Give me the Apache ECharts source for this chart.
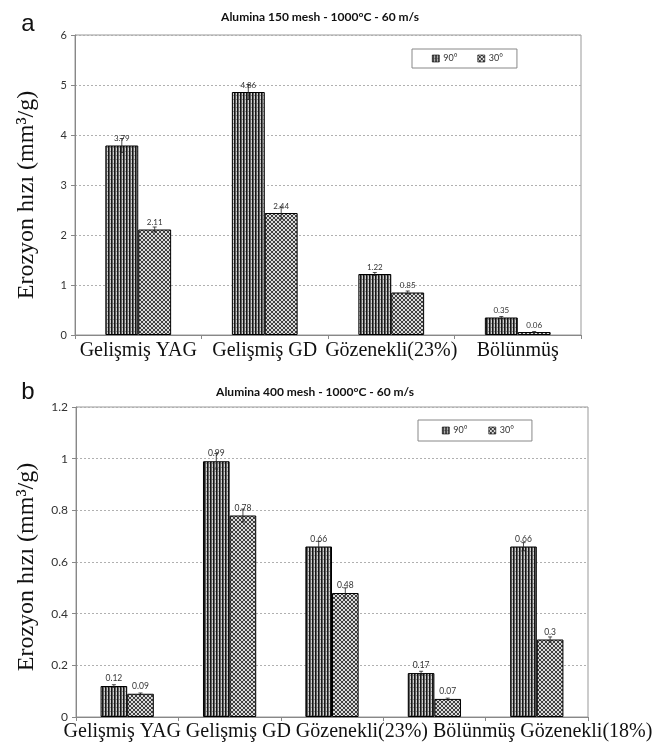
<!DOCTYPE html>
<html>
<head>
<meta charset="utf-8">
<script src="https://cdn.jsdelivr.net/npm/echarts@6/dist/echarts.min.js"></script>
<style>
html,body{margin:0;padding:0;background:#fff;}
#c{width:660px;height:746px;}
</style>
</head>
<body>
<div id="c"></div>
<script>
// ---------- DATA ----------
const seriesNames = ['90°', '30°'];
const categoriesA = ['Gelişmiş YAG', 'Gelişmiş GD', 'Gözenekli(23%)', 'Bölünmüş'];
const valuesA90 = [3.79, 4.86, 1.22, 0.35];
const valuesA30 = [2.11, 2.44, 0.85, 0.06];
const errorsA90 = [0.14, 0.15, 0.03, 0.02];
const errorsA30 = [0.05, 0.12, 0.03, 0.01];
const ticksA = [0, 1, 2, 3, 4, 5, 6];

const categoriesB = ['Gelişmiş YAG', 'Gelişmiş GD', 'Gözenekli(23%)', 'Bölünmüş', 'Gözenekli(18%)'];
const valuesB90 = [0.12, 0.99, 0.66, 0.17, 0.66];
const valuesB30 = [0.09, 0.78, 0.48, 0.07, 0.30];
const errorsB90 = [0.005, 0.03, 0.02, 0.007, 0.015];
const errorsB30 = [0.003, 0.025, 0.02, 0.003, 0.01];
const ticksB = [0, 0.2, 0.4, 0.6, 0.8, 1.0, 1.2];

const titleA = 'Alumina 150 mesh - 1000°C - 60 m/s';
const titleB = 'Alumina 400 mesh - 1000°C - 60 m/s';
const yTitle = 'Erozyon hızı (mm³/g)';

// ---------- PATTERNS ----------
function makePattern90() {
  const c = document.createElement('canvas');
  c.width = 3; c.height = 4;
  const g = c.getContext('2d');
  g.fillStyle = '#d0d0d0'; g.fillRect(0, 0, 3, 4);
  g.fillStyle = '#161616'; g.fillRect(0, 0, 1, 4);
  g.fillStyle = '#606060'; g.fillRect(1, 0, 1, 4);
  g.fillStyle = '#909090'; g.fillRect(2, 3, 1, 1);
  return c;
}
function makePattern30() {
  const c = document.createElement('canvas');
  c.width = 4; c.height = 4;
  const g = c.getContext('2d');
  g.fillStyle = '#dadada'; g.fillRect(0, 0, 4, 4);
  g.fillStyle = '#404040';
  for (let i = 0; i < 4; i++) {
    g.fillRect(i, i, 1, 1);
    g.fillRect(i, 3 - i, 1, 1);
  }
  return c;
}
const pat90 = { image: makePattern90(), repeat: 'repeat' };
const pat30 = { image: makePattern30(), repeat: 'repeat' };

const GAP = 0.48;
const serif = '"Liberation Serif", "Times New Roman", serif';
const sans = 'Lato, "Open Sans", sans-serif';

function errRender(side) {
  return function (params, api) {
    const i = api.value(0), v = api.value(1), e = api.value(2);
    const hi = api.coord([i, v + e]);
    const lo = api.coord([i, v - e]);
    const cw = api.size([1, 0])[0];
    const bw = cw * (1 - GAP) / 2;
    const x = hi[0] + side * bw / 2;
    const st = { stroke: '#222', lineWidth: 0.8 };
    return {
      type: 'group',
      children: [
        { type: 'line', shape: { x1: x, y1: hi[1], x2: x, y2: lo[1] }, style: st },
        { type: 'line', shape: { x1: x - 2, y1: hi[1], x2: x + 2, y2: hi[1] }, style: st },
        { type: 'line', shape: { x1: x - 2, y1: lo[1], x2: x + 2, y2: lo[1] }, style: st }
      ]
    };
  };
}

function barSeries(name, vals, pat, gi, fs) {
  return {
    name: name, type: 'bar', xAxisIndex: gi, yAxisIndex: gi,
    data: vals, barGap: '0%', barCategoryGap: (GAP * 100) + '%',
    itemStyle: { color: pat, borderColor: '#000', borderWidth: 1 },
    label: { show: true, position: 'top', distance: 3, fontSize: fs, color: '#333', fontFamily: sans },
    z: 2
  };
}
function errSeries(vals, errs, side, gi) {
  return {
    type: 'custom', xAxisIndex: gi, yAxisIndex: gi,
    renderItem: errRender(side),
    data: vals.map((v, i) => [i, v, errs[i]]),
    encode: { x: 0, y: 1 }, z: 5, silent: true
  };
}

function yAxisFor(ticks, gi, fs) {
  return {
    type: 'value', gridIndex: gi,
    min: ticks[0], max: ticks[ticks.length - 1], interval: ticks[1] - ticks[0],
    axisLine: { show: true, lineStyle: { color: '#888' } },
    axisTick: { show: true, length: 4, lineStyle: { color: '#888' } },
    axisLabel: { fontSize: fs, color: '#333', fontFamily: sans, margin: 8 },
    splitLine: { show: true, lineStyle: { color: '#b0b0b0', type: [2, 2], width: 1 } }
  };
}
function xAxisFor(cats, gi, showLabel) {
  return {
    type: 'category', gridIndex: gi, data: cats,
    axisLine: { show: true, lineStyle: { color: '#888' } },
    axisTick: { show: true, length: 4, lineStyle: { color: '#888' } },
    axisLabel: { show: showLabel, interval: 0, fontSize: 20, color: '#111', fontFamily: serif, margin: 6 }
  };
}

const chart = echarts.init(document.getElementById('c'), null, { renderer: 'canvas' });
chart.setOption({
  backgroundColor: '#fff',
  animation: false,
  grid: [
    { left: 75, right: 79, top: 35, bottom: 411, show: true, borderColor: '#999', borderWidth: 1 },
    { left: 76, right: 72, top: 407, bottom: 29, show: true, borderColor: '#999', borderWidth: 1 }
  ],
  xAxis: [xAxisFor(categoriesA, 0, true), xAxisFor(categoriesB, 1, false)],
  yAxis: [yAxisFor(ticksA, 0, 11), yAxisFor(ticksB, 1, 12)],
  legend: [
    {
      data: seriesNames, left: 412, top: 49, orient: 'horizontal',
      borderColor: '#888', borderWidth: 1, backgroundColor: '#fff',
      padding: [5, 14, 5, 20], itemGap: 20, itemWidth: 7, itemHeight: 7,
      icon: 'rect',
      textStyle: { fontSize: 9, color: '#333', fontFamily: sans, padding: [0, 0, 0, -1] },
      itemStyle: { borderColor: '#000', borderWidth: 0.6 }
    },
    {
      data: seriesNames, left: 418, top: 420, orient: 'horizontal',
      borderColor: '#888', borderWidth: 1, backgroundColor: '#fff',
      padding: [6, 18, 6, 24], itemGap: 21, itemWidth: 7, itemHeight: 7,
      icon: 'rect',
      textStyle: { fontSize: 9, color: '#333', fontFamily: sans, padding: [0, 0, 0, -1] },
      itemStyle: { borderColor: '#000', borderWidth: 0.6 }
    }
  ],
  series: [
    barSeries(seriesNames[0], valuesA90, pat90, 0, 8),
    barSeries(seriesNames[1], valuesA30, pat30, 0, 8),
    errSeries(valuesA90, errorsA90, -1, 0),
    errSeries(valuesA30, errorsA30, 1, 0),
    barSeries(seriesNames[0], valuesB90, pat90, 1, 8.5),
    barSeries(seriesNames[1], valuesB30, pat30, 1, 8.5),
    errSeries(valuesB90, errorsB90, -1, 1),
    errSeries(valuesB30, errorsB30, 1, 1)
  ],
  graphic: [
    { type: 'text', x: 28, y: 24, style: { text: 'a', fontSize: 24, fontFamily: '"Liberation Sans", Arial, sans-serif', fill: '#111', align: 'center', verticalAlign: 'middle' } },
    { type: 'text', x: 28, y: 392, style: { text: 'b', fontSize: 24, fontFamily: '"Liberation Sans", Arial, sans-serif', fill: '#111', align: 'center', verticalAlign: 'middle' } },
    { type: 'text', x: 320, y: 17, style: { text: titleA, fontSize: 12, fontWeight: 'bold', fontFamily: sans, fill: '#111', align: 'center', verticalAlign: 'middle' } },
    { type: 'text', x: 315, y: 392, style: { text: titleB, fontSize: 12, fontWeight: 'bold', fontFamily: sans, fill: '#111', align: 'center', verticalAlign: 'middle' } },
    { type: 'text', x: 27, y: 195, rotation: Math.PI / 2, style: { text: yTitle, fontSize: 24, fontFamily: serif, fill: '#111', align: 'center', verticalAlign: 'middle' } },
    { type: 'text', x: 27, y: 567, rotation: Math.PI / 2, style: { text: yTitle, fontSize: 24, fontFamily: serif, fill: '#111', align: 'center', verticalAlign: 'middle' } },
    { type: 'text', x: 358, y: 732, style: { text: categoriesB.join(' '), fontSize: 20, fontFamily: serif, fill: '#111', align: 'center', verticalAlign: 'middle' } }
  ]
});
</script>
</body>
</html>
